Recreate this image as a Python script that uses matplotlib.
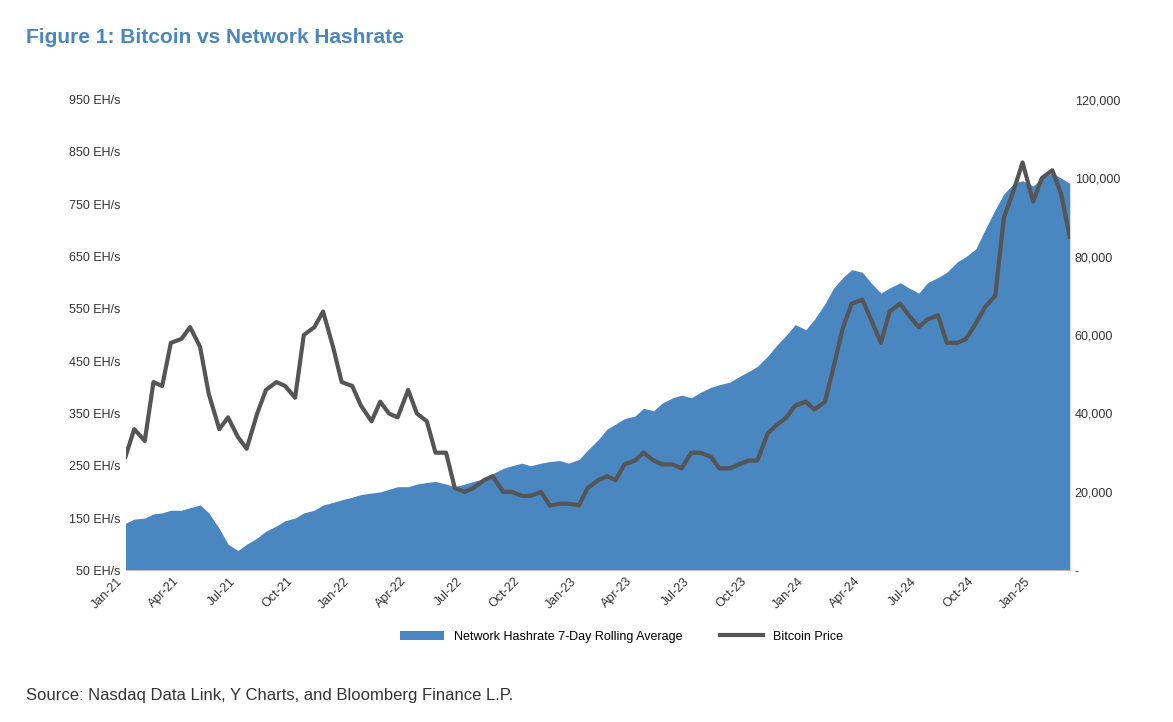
import numpy as np
import pandas as pd
import matplotlib
matplotlib.use('Agg')
import matplotlib.pyplot as plt
import matplotlib.dates as mdates
from matplotlib.ticker import FuncFormatter

plt.rcParams['font.family'] = 'Liberation Sans'

# semi-monthly samples, Jan-2021 .. Mar-2025
dates = pd.date_range('2021-01-01', '2025-03-01', freq='SMS')

# Bitcoin price, thousand USD
btc_price = [29, 36, 33, 48, 47, 58, 59, 62, 57, 45, 36, 39, 34, 31, 40, 46,
             48, 47, 44, 60, 62, 66, 57, 48, 47, 42, 38, 43, 40, 39, 46, 40,
             38, 30, 30, 21, 20, 21, 23, 24, 20, 20, 19, 19, 20, 16.5, 17, 17,
             16.6, 21, 23, 24, 23, 27, 28, 30, 28, 27, 27, 26, 30, 30, 29, 26,
             26, 27, 28, 28, 35, 37, 39, 42, 43, 41, 43, 52, 62, 68, 69, 64,
             58, 66, 68, 65, 62, 64, 65, 58, 58, 59, 63, 67, 70, 90, 97, 104,
             94, 100, 102, 96, 85]

# network hashrate, 7-day rolling average, EH/s
hashrate = [140, 148, 150, 158, 160, 165, 165, 170, 175, 160, 130, 100, 88, 100, 112, 125,
            135, 145, 150, 160, 165, 175, 180, 185, 190, 195, 198, 200, 205, 210, 210, 215,
            218, 220, 215, 210, 215, 220, 225, 235, 245, 250, 255, 250, 255, 258, 260, 255,
            262, 280, 300, 320, 330, 340, 345, 360, 355, 370, 380, 385, 380, 390, 400, 405,
            410, 420, 430, 440, 460, 480, 500, 520, 510, 530, 560, 590, 610, 625, 620, 600,
            580, 590, 600, 590, 580, 600, 610, 620, 640, 650, 665, 700, 740, 770, 790, 795,
            785, 800, 810, 800, 790]

fig = plt.figure(figsize=(11.73, 7.22), dpi=100)
ax1 = fig.add_axes([0.107, 0.21, 0.805, 0.652])
ax1.fill_between(dates, 50, hashrate, color='#4a86c0', lw=0,
                 label='Network Hashrate 7-Day Rolling Average')
ax1.set_ylim(50, 950)
ax1.set_yticks(np.arange(50, 951, 100))
ax1.yaxis.set_major_formatter(FuncFormatter(lambda v, p: '%d EH/s' % v))
ax1.set_xlim(dates[0], dates[-1])

ax2 = ax1.twinx()
ax2.plot(dates, np.array(btc_price) * 1000, color='#555555', lw=3, label='Bitcoin Price')
ax2.set_ylim(0, 120000)
ax2.set_yticks(np.arange(0, 120001, 20000))
ax2.yaxis.set_major_formatter(FuncFormatter(lambda v, p: '-' if v == 0 else '{:,.0f}'.format(v)))

ax1.xaxis.set_major_locator(mdates.MonthLocator(bymonth=[1, 4, 7, 10]))
ax1.xaxis.set_major_formatter(mdates.DateFormatter('%b-%y'))
for lab in ax1.get_xticklabels():
    lab.set_rotation(45)
    lab.set_ha('right')

for ax in (ax1, ax2):
    for s in ax.spines.values():
        s.set_visible(False)
    ax.tick_params(length=0, labelsize=9, colors='#333333')
ax1.spines['bottom'].set_visible(True)
ax1.spines['bottom'].set_color('#bbbbbb')

h1, l1 = ax1.get_legend_handles_labels()
h2, l2 = ax2.get_legend_handles_labels()
fig.legend(h1 + h2, l1 + l2, loc='center', bbox_to_anchor=(0.53, 0.118), ncol=2,
           frameon=False, fontsize=9, handlelength=3.5, columnspacing=3)

fig.text(0.022, 0.94, 'Figure 1: Bitcoin vs Network Hashrate', fontsize=15,
         fontweight='bold', color='#4a86c0')
fig.text(0.022, 0.03, 'Source: Nasdaq Data Link, Y Charts, and Bloomberg Finance L.P.',
         fontsize=12, color='#333333')

fig.savefig('out.png', dpi=100)
